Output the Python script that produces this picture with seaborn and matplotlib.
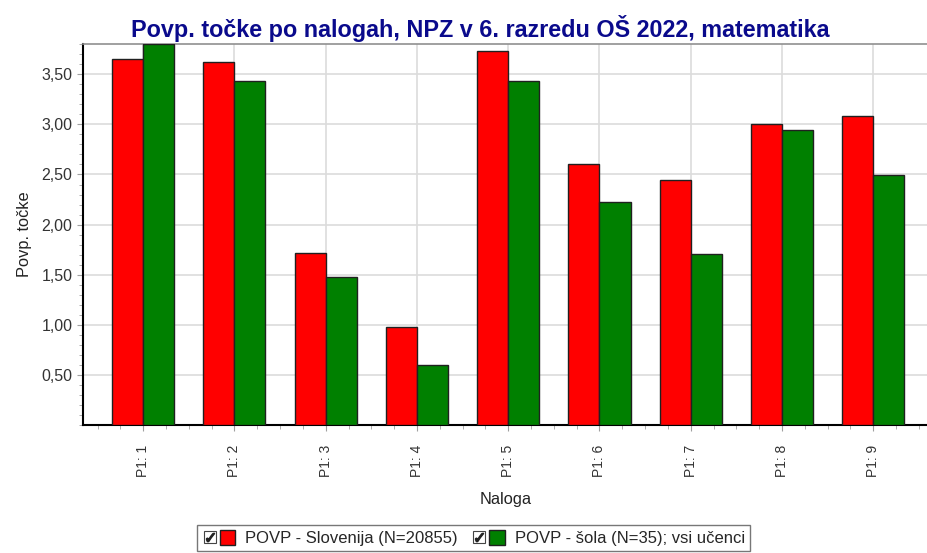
import pandas as pd
import matplotlib
matplotlib.use("Agg")
import matplotlib.pyplot as plt
import seaborn as sns
from matplotlib.ticker import MultipleLocator, FixedLocator, FuncFormatter
from matplotlib.lines import Line2D
from matplotlib.legend_handler import HandlerTuple

# Data
tasks = ["P1: 1", "P1: 2", "P1: 3", "P1: 4", "P1: 5", "P1: 6", "P1: 7", "P1: 8", "P1: 9"]
slovenija = [3.65, 3.62, 1.72, 0.98, 3.73, 2.60, 2.45, 3.00, 3.08]
sola = [3.80, 3.43, 1.48, 0.60, 3.43, 2.23, 1.71, 2.94, 2.49]
series = ["POVP - Slovenija (N=20855)", "POVP - šola (N=35); vsi učenci"]

df = pd.DataFrame({
    "Naloga": tasks * 2,
    "Povp. točke": slovenija + sola,
    "Serija": [series[0]] * len(tasks) + [series[1]] * len(tasks),
})

sns.set_style("white")
plt.rcParams["font.family"] = ["Liberation Sans", "DejaVu Sans"]

fig = plt.figure(figsize=(9.28, 5.53), dpi=100)
ax = fig.add_axes([0.0894, 0.2315, 0.9106, 0.6885])

sns.barplot(data=df, x="Naloga", y="Povp. točke", hue="Serija",
            palette=["#ff0000", "#008000"], width=0.68, saturation=1,
            edgecolor="#202020", linewidth=1, ax=ax, zorder=3)

ax.set_ylim(0, 3.8)
ax.set_xlim(-0.66, 8.6)

# axes styling
ax.yaxis.set_major_locator(FixedLocator([0.5, 1.0, 1.5, 2.0, 2.5, 3.0, 3.5]))
ax.yaxis.set_minor_locator(MultipleLocator(0.1))
ax.yaxis.set_major_formatter(FuncFormatter(lambda v, p: f"{v:.2f}".replace(".", ",")))
ax.xaxis.set_minor_locator(MultipleLocator(0.25))
ax.grid(True, which="major", color="#dcdcdc", linewidth=1.2, zorder=0)
ax.set_axisbelow(True)

ax.tick_params(axis="both", which="both", direction="out", color="#a0a0a0", bottom=True, left=True)
ax.tick_params(axis="both", which="major", length=4, labelcolor="#333333")
ax.tick_params(axis="y", which="major", labelsize=11.5)
ax.tick_params(axis="x", which="major", labelsize=10, rotation=90, pad=10)
ax.tick_params(axis="both", which="minor", length=3)

for s in ["left", "bottom"]:
    ax.spines[s].set_color("black")
    ax.spines[s].set_linewidth(1.5)
ax.spines["top"].set_color("#909090")
ax.spines["top"].set_linewidth(1.2)
ax.spines["right"].set_visible(False)

ax.set_xlabel("Naloga", fontsize=11.8, color="#222222", labelpad=11)
ax.set_ylabel("Povp. točke", fontsize=11.8, color="#222222", labelpad=7)
ax.set_title("Povp. točke po nalogah, NPZ v 6. razredu OŠ 2022, matematika",
             fontsize=16.8, fontweight="bold", color="#0a0a8c", pad=5, x=0.47)


# checkbox = square outline with a tick drawn on top of it
class CheckBox(tuple):
    pass


handles, labels = ax.get_legend_handles_labels()
entries = []
for h in handles:
    sq = Line2D([], [], marker="s", markersize=8, markerfacecolor="white",
                markeredgecolor="#444444", markeredgewidth=0.8, linestyle="none")
    ck = Line2D([], [], marker="$\u2713$", markersize=6, color="#222222", linestyle="none")
    entries.append((CheckBox((sq, ck)), h))
ax.legend(entries, labels, loc="lower center", bbox_to_anchor=(0.51, -0.012),
          bbox_transform=fig.transFigure, ncol=2, frameon=True, fancybox=False,
          edgecolor="#555555", fontsize=12, handlelength=2.0, handleheight=1.0,
          handler_map={CheckBox: HandlerTuple(ndivide=1),
                       tuple: HandlerTuple(ndivide=None, pad=0.15)},
          borderpad=0.3, columnspacing=0.8, handletextpad=0.6)

fig.savefig("out.png", dpi=100)
